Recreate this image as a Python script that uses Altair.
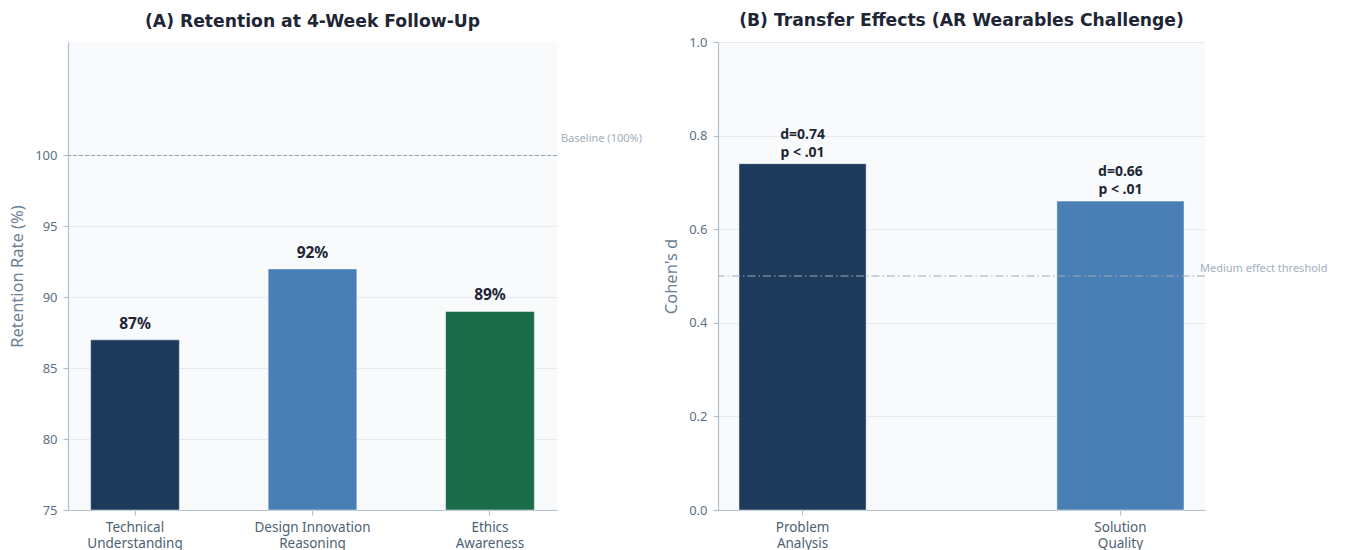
import altair as alt
import pandas as pd

# Panel A: retention at 4-week follow-up
skills = ["Technical|Understanding", "Design Innovation|Reasoning", "Ethics|Awareness"]
retention = [87, 92, 89]
retention_labels = ["87%", "92%", "89%"]
skill_colors = ["#1d3a5c", "#4a7fb5", "#1a6b4a"]
baseline_value = [100]
baseline_label = ["Baseline (100%)"]
retention_ticks = [75, 80, 85, 90, 95, 100]

# Panel B: transfer effects (Cohen's d)
measures = ["Problem|Analysis", "Solution|Quality"]
cohens_d = [0.74, 0.66]
d_labels = ["d=0.74", "d=0.66"]
p_labels = ["p < .01", "p < .01"]
measure_colors = ["#1d3a5c", "#4a7fb5"]
threshold_value = [0.5]
threshold_label = ["Medium effect threshold"]
d_ticks = [0.0, 0.2, 0.4, 0.6, 0.8, 1.0]

W_A, W_B, H = 489, 487, 468

TITLE_FONT = "DejaVu Sans"
FONT = "Noto Sans"
AXIS_COLOR = "#b4c0cc"
LABEL_COLOR = "#5c6f84"
TITLE_COLOR = "#1e2636"

def x_axis():
    return alt.Axis(
        title=None, labelAngle=0, labelExpr="split(datum.label, '|')",
        labelFontSize=13.5, labelColor="#4e5f72", labelPadding=5, tickSize=5,
        labelLineHeight=16, grid=False,
    )

def y_axis(title, values, fmt):
    return alt.Axis(
        title=title, values=values, format=fmt, tickSize=5, labelPadding=6,
        labelFontSize=13, labelColor=LABEL_COLOR, titleFontSize=16.5,
        titleColor="#6b7f95", titleFontWeight="normal", titlePadding=9,
        grid=True, gridColor="#e4e9ee", gridWidth=0.9,
    )

# ---- Panel A ----
df_a = pd.DataFrame({"skill": skills, "rate": retention, "label": retention_labels})
x_a = alt.X("skill:N", sort=skills, axis=x_axis(),
            scale=alt.Scale(paddingInner=0.5, paddingOuter=0.1275))
y_a_scale = alt.Scale(domain=[75, 108], nice=False, zero=False)

bars_a = alt.Chart(df_a).mark_bar(stroke="#ffffff", strokeWidth=0.8, strokeOpacity=0.6).encode(
    x=x_a,
    y=alt.Y("rate:Q", scale=y_a_scale,
            axis=y_axis("Retention Rate (%)", retention_ticks, "d")),
    y2=alt.Y2(datum=75),
    color=alt.Color("skill:N", scale=alt.Scale(domain=skills, range=skill_colors), legend=None),
)
text_a = alt.Chart(df_a).mark_text(
    font=FONT, fontSize=15.5, fontWeight="bold", color=TITLE_COLOR,
    baseline="bottom", dy=-8,
).encode(x=alt.X("skill:N", sort=skills), y="rate:Q", text="label:N")

df_base = pd.DataFrame({"v": baseline_value, "label": baseline_label})
rule_a = alt.Chart(df_base).mark_rule(color="#8ea3b4", strokeWidth=1.1, strokeDash=[4, 2]).encode(
    y=alt.Y("v:Q", scale=y_a_scale)
)
rule_a_text = alt.Chart(df_base).mark_text(
    font=FONT, fontSize=11, color="#a2afbc", align="left", baseline="bottom", dx=4, dy=-11,
).encode(x=alt.value(W_A), y="v:Q", text="label:N")

panel_a = alt.layer(bars_a, rule_a, text_a, rule_a_text).properties(
    width=W_A, height=H,
    title=alt.TitleParams("(A) Retention at 4-Week Follow-Up", font=TITLE_FONT,
                          fontSize=17.2, fontWeight="bold", color=TITLE_COLOR,
                          anchor="middle", offset=12),
)

# ---- Panel B ----
df_b = pd.DataFrame({"measure": measures, "d": cohens_d,
                     "label": [[a, b] for a, b in zip(d_labels, p_labels)]})
x_b = alt.X("measure:N", sort=measures, axis=x_axis(),
            scale=alt.Scale(paddingInner=0.6, paddingOuter=0.066))
y_b_scale = alt.Scale(domain=[0, 1], nice=False)

bars_b = alt.Chart(df_b).mark_bar(stroke="#ffffff", strokeWidth=0.8, strokeOpacity=0.6).encode(
    x=x_b,
    y=alt.Y("d:Q", scale=y_b_scale, axis=y_axis("Cohen's d", d_ticks, ".1f")),
    color=alt.Color("measure:N", scale=alt.Scale(domain=measures, range=measure_colors), legend=None),
)
text_b = alt.Chart(df_b).mark_text(
    font=FONT, fontSize=14, fontWeight="bold", color=TITLE_COLOR,
    baseline="bottom", dy=-22, lineHeight=18,
).encode(x=alt.X("measure:N", sort=measures), y="d:Q", text="label")

df_thr = pd.DataFrame({"v": threshold_value, "label": threshold_label})
rule_b = alt.Chart(df_thr).mark_rule(color="#9eaab6", strokeWidth=1.1, strokeDash=[8, 3, 1.5, 3]).encode(
    y=alt.Y("v:Q", scale=y_b_scale)
)
rule_b_text = alt.Chart(df_thr).mark_text(
    font=FONT, fontSize=11, color="#a2afbc", align="left", baseline="bottom", dx=-5, dy=-2,
).encode(x=alt.value(W_B), y="v:Q", text="label:N")

panel_b = alt.layer(bars_b, rule_b, text_b, rule_b_text).properties(
    width=W_B, height=H,
    title=alt.TitleParams("(B) Transfer Effects (AR Wearables Challenge)", font=TITLE_FONT,
                          fontSize=17.2, fontWeight="bold", color=TITLE_COLOR,
                          anchor="middle", offset=7),
)

chart = alt.hconcat(panel_a, panel_b, spacing=161, bounds="flush").properties(
    padding={"left": 9, "top": 11, "right": 5, "bottom": 0},
    background="#ffffff",
).configure_view(
    stroke=None, fill="#f8fafc",
).configure_axis(
    domainColor=AXIS_COLOR, tickColor=AXIS_COLOR, domainWidth=1.2, tickWidth=1.2,
    labelFont=FONT, titleFont=FONT,
).configure_text(font=FONT)

chart.save("out.html", embed_options={"renderer": "svg", "actions": False})
